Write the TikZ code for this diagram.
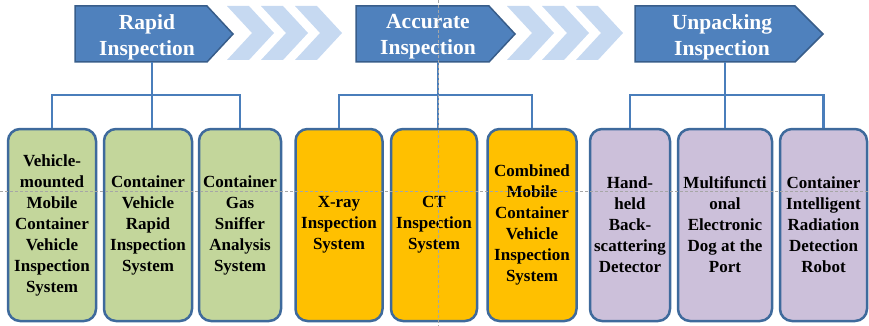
\documentclass[tikz,border=0pt]{standalone}
\usepackage{fontspec}
\setmainfont{Liberation Serif}
\definecolor{hdrfill}{HTML}{4F81BD}
\definecolor{hdrline}{HTML}{385D8A}
\definecolor{chev}{HTML}{C6D9F1}
\definecolor{wire}{HTML}{4A7EBB}
\definecolor{boxline}{HTML}{3E6A9C}
\definecolor{greenfill}{HTML}{C3D69B}
\definecolor{orangefill}{HTML}{FFC000}
\definecolor{purplefill}{HTML}{CCC0DA}
\definecolor{guide}{HTML}{A6A6A6}
\begin{document}
\begin{tikzpicture}[x=1pt,y=-1pt,
  hdr/.style={fill=hdrfill,draw=hdrline,line width=1.5pt,line join=miter},
  hdrtext/.style={text=white,align=center,inner sep=0pt,
    font=\fontsize{21.5}{26}\selectfont\bfseries},
  chevron/.style={fill=chev,draw=none},
  wireline/.style={draw=wire,line width=2.5pt},
  item/.style={draw=boxline,line width=2.5pt,rounded corners=12pt,
    minimum height=192pt,align=center,inner sep=0pt,
    font=\fontsize{17}{21}\selectfont\bfseries},
  guideline/.style={draw=guide,line width=0.6pt,dash pattern=on 3pt off 2pt}]
\useasboundingbox (0,0) rectangle (869,326);

% chevron trains between the stage headers
\foreach \x in {227,261,295,507,542,576}{
  \path[chevron] (\x,6) -- (\x+22,6) -- (\x+47,33) -- (\x+22,60) -- (\x,60) -- (\x+25,33) -- cycle;
}

% stage headers
\path[hdr] (75,6) -- (207,6) -- (233,34) -- (207,62) -- (75,62) -- cycle;
\path[hdr] (356,6) -- (489,6) -- (515,34) -- (489,62) -- (356,62) -- cycle;
\path[hdr] (635,6) -- (795,6) -- (823,34) -- (795,62) -- (635,62) -- cycle;
\node[hdrtext] (hr) at (147,37) {Rapid\\Inspection};
\node[hdrtext] (ha) at (428,37) {Accurate\\Inspection};
\node[hdrtext] (hu) at (722,37) {Unpacking\\Inspection};
\coordinate (hr-b) at (152,62);
\coordinate (ha-b) at (438,62);
\coordinate (hu-b) at (725,62);
\coordinate (jr) at (152,95);
\coordinate (ja) at (438,95);
\coordinate (ju) at (725,95);

% inspection systems
\node[item,fill=greenfill,minimum width=88pt] (b1) at (52,225)
  {Vehicle-\\mounted\\Mobile\\Container\\Vehicle\\Inspection\\System};
\node[item,fill=greenfill,minimum width=88pt] (b2) at (148,225)
  {Container\\Vehicle\\Rapid\\Inspection\\System};
\node[item,fill=greenfill,minimum width=82pt] (b3) at (240,225)
  {Container\\Gas\\Sniffer\\Analysis\\System};
\node[item,fill=orangefill,minimum width=87pt] (b4) at (339,225)
  {X-ray\\Inspection\\System};
\node[item,fill=orangefill,minimum width=86pt] (b5) at (434,225)
  {CT\\Inspection\\System};
\node[item,fill=orangefill,minimum width=89pt] (b6) at (532,225)
  {Combined\\Mobile\\Container\\Vehicle\\Inspection\\System};
\node[item,fill=purplefill,minimum width=80pt] (b7) at (630,225)
  {Hand-\\held\\Back-\\scattering\\Detector};
\node[item,fill=purplefill,minimum width=94pt] (b8) at (725,225)
  {Multifuncti\\onal\\Electronic\\Dog at the\\Port};
\node[item,fill=purplefill,minimum width=87pt] (b9) at (823.5,225)
  {Container\\Intelligent\\Radiation\\Detection\\Robot};

% tree connectors
\draw[wireline] (hr-b) -- (jr) -| (b1.north);
\draw[wireline] (jr) -| (b3.north);
\draw[wireline] (jr) -- (jr |- b2.north);
\draw[wireline] (ha-b) -- (ja) -| (b4.north);
\draw[wireline] (ja) -| (b6.north);
\draw[wireline] (ja) -- (ja |- b5.north);
\draw[wireline] (hu-b) -- (ju) -| (b7.north);
\draw[wireline] (ju) -| (b9.north);
\draw[wireline] (ju) -- (ju |- b8.north);

% alignment guides
\draw[guideline] (0,191) -- (869,191);
\draw[guideline] (438,0) -- (438,326);
\end{tikzpicture}
\end{document}
